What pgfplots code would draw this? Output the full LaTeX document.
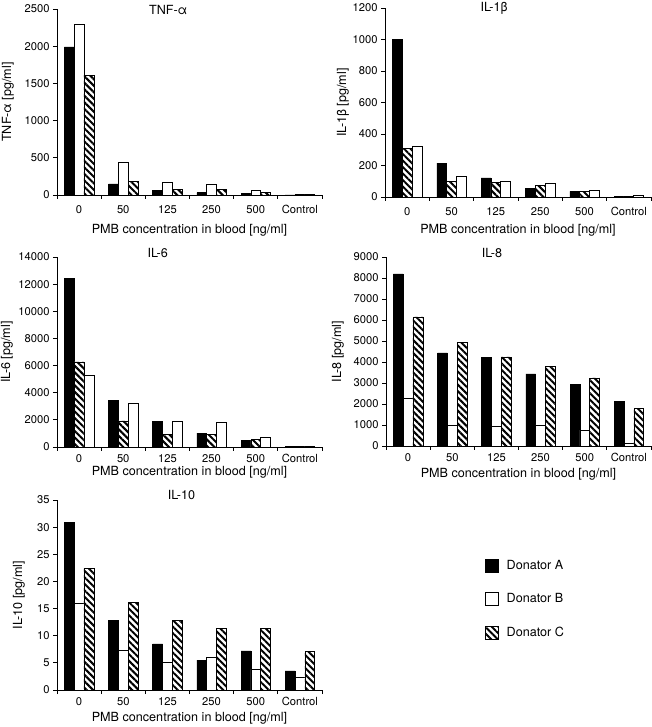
\documentclass[border=0pt]{standalone}
\usepackage{fontspec}
\setmainfont{TeX Gyre Heros}
\usepackage{pgfplots}
\pgfplotsset{compat=1.18}
\usetikzlibrary{patterns.meta}
\newcommand\fnt{\fontsize{11.2bp}{13bp}\selectfont}
\newcommand\lfnt{\fontsize{12.6bp}{15bp}\selectfont}
\pgfplotsset{
  panel/.style={
    scale only axis, axis lines*=left, anchor=south west,
    width=265bp, clip=false,
    xmin=-0.5, xmax=5.5, ymin=0,
    enlargelimits=false,
    xtick={0,...,5}, xticklabels={0,50,125,250,500,Control},
    minor xtick={-0.5,0.5,...,5.5},
    every major x tick/.append style={draw=none},
    tick align=outside, major tick length=4bp, minor tick length=4bp,
    ybar=0pt, bar width=9.8bp,
    every tick label/.append style={font=\fnt},
    /pgf/number format/assume math mode=true,
    /pgf/number format/1000 sep={},
    scaled y ticks=false,
    axis line style={line width=0.8bp},
    tick style={line width=0.8bp, black},
    xlabel={PMB concentration in blood [ng/ml]},
    every axis y label/.style={rotate=90, anchor=center, font=\lfnt},
    every axis x label/.style={anchor=center, font=\lfnt},
  },
  donA/.style={fill=black, draw=black, line width=0.5bp},
  donB/.style={fill=white, draw=black, line width=0.5bp},
  donC/.style={draw=black, line width=0.5bp, fill=white, postaction={pattern={Lines[angle=-45,distance=4.6bp,line width=2bp]}}},
  sqleg/.style={legend image code/.code={\draw[##1] (0bp,-6.5bp) rectangle (13bp,6.5bp);}},
}
\begin{document}
\begin{tikzpicture}
\useasboundingbox (0bp,0bp) rectangle (652bp,727bp);

% ---------- TNF-alpha ----------
\begin{axis}[panel, at={(57bp,532bp)}, height=186bp,
  ymax=2500, ytick={0,500,...,2500},
  ylabel={TNF-α [pg/ml]},
  ylabel style={at={([xshift=-49bp]rel axis cs:0,0.5)}},
  xlabel style={at={([yshift=-35bp]rel axis cs:0.5,0)}},
  xticklabel style={yshift=-3bp},
]
\addplot[donA] coordinates {(0,1990) (1,148) (2,67) (3,31) (4,22) (5,2)};
\addplot[donB] coordinates {(0,2300) (1,440) (2,175) (3,150) (4,63) (5,6)};
\addplot[donC] coordinates {(0,1610) (1,184) (2,76) (3,76) (4,36) (5,6)};
\node[font=\lfnt, anchor=center] at ([yshift=-1bp]rel axis cs:0.42,1) {TNF-α};
\end{axis}

% ---------- IL-1beta ----------
\begin{axis}[panel, at={(385bp,530bp)}, height=189bp, width=266bp,
  ymax=1200, ytick={0,200,...,1200},
  ylabel={IL-1β [pg/ml]},
  ylabel style={at={([xshift=-42bp]rel axis cs:0,0.5)}},
  xlabel style={at={([yshift=-33bp]rel axis cs:0.5,0)}},
  xticklabel style={yshift=-3bp},
]
\addplot[donA] coordinates {(0,1000) (1,215) (2,122) (3,55) (4,36) (5,4)};
\addplot[donC] coordinates {(0,310) (1,97) (2,93) (3,74) (4,38) (5,2)};
\addplot[donB] coordinates {(0,320) (1,130) (2,102) (3,88) (4,45) (5,12)};
\node[font=\lfnt, anchor=center] at (rel axis cs:0.41,1) {IL-1β};
\end{axis}

% ---------- IL-6 ----------
\begin{axis}[panel, at={(57bp,280bp)}, height=190bp,
  ymax=14000, ytick={0,2000,...,14000},
  ylabel={IL-6 [pg/ml]},
  ylabel style={at={([xshift=-50bp]rel axis cs:0,0.5)}},
  xlabel style={at={([yshift=-25bp]rel axis cs:0.5,0)}},
]
\addplot[donA] coordinates {(0,12450) (1,3450) (2,1880) (3,1020) (4,490) (5,20)};
\addplot[donC] coordinates {(0,6270) (1,1930) (2,950) (3,950) (4,560) (5,20)};
\addplot[donB] coordinates {(0,5280) (1,3250) (2,1910) (3,1830) (4,700) (5,50)};
\node[font=\lfnt, anchor=center] at ([yshift=4bp]rel axis cs:0.38,1) {IL-6};
\end{axis}

% ---------- IL-8 ----------
\begin{axis}[panel, at={(386bp,281bp)}, height=189bp,
  ymax=9000, ytick={0,1000,...,9000},
  ylabel={IL-8 [pg/ml]},
  ylabel style={at={([xshift=-48bp]rel axis cs:0,0.5)}},
  xlabel style={at={([yshift=-28bp]rel axis cs:0.5,0)}},
]
\addplot[donA] coordinates {(0,8200) (1,4430) (2,4220) (3,3440) (4,2920) (5,2120)};
\addplot[donB] coordinates {(0,2270) (1,980) (2,920) (3,1000) (4,760) (5,120)};
\addplot[donC] coordinates {(0,6150) (1,4930) (2,4240) (3,3800) (4,3240) (5,1800)};
\node[font=\lfnt, anchor=center] at ([yshift=4bp]rel axis cs:0.40,1) {IL-8};
\end{axis}

% ---------- IL-10 ----------
\begin{axis}[panel, at={(57bp,37bp)}, height=190bp,
  ymax=35, ytick={0,5,...,35},
  ylabel={IL-10 [pg/ml]},
  ylabel style={at={([xshift=-38bp]rel axis cs:0,0.5)}},
  xlabel style={at={([yshift=-28bp]rel axis cs:0.5,0)}},
  legend style={draw=none, fill=none, at={(1.615,0.695)}, anchor=north west,
    row sep=19bp, column sep=6bp, font=\lfnt, inner sep=0pt},
  legend cell align=left,
]
\addplot[donA, sqleg] coordinates {(0,30.9) (1,12.8) (2,8.5) (3,5.5) (4,7.2) (5,3.5)};
\addplot[donB, sqleg] coordinates {(0,16.0) (1,7.3) (2,5.1) (3,6.0) (4,3.8) (5,2.3)};
\addplot[donC, sqleg] coordinates {(0,22.4) (1,16.2) (2,12.8) (3,11.4) (4,11.4) (5,7.1)};
\legend{Donator A, Donator B, Donator C}
\node[font=\lfnt, anchor=center] at ([yshift=5bp]rel axis cs:0.47,1) {IL-10};
\end{axis}
\end{tikzpicture}
\end{document}
